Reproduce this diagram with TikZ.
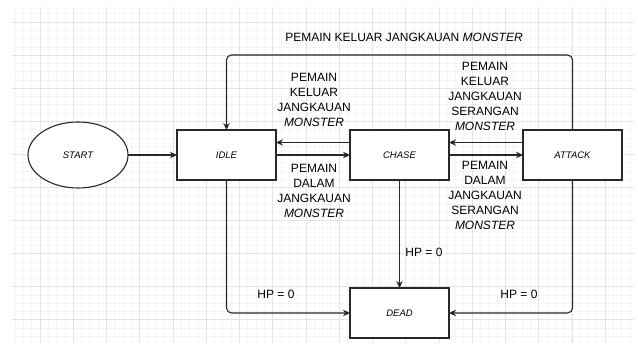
\documentclass[tikz,border=0pt]{standalone}
\usepackage{fontspec}
\setmainfont{Liberation Sans}
\usetikzlibrary{arrows.meta,positioning,shapes.geometric,calc}
\definecolor{gridmajor}{RGB}{228,228,228}
\definecolor{gridminor}{RGB}{245,245,245}
\definecolor{edgegray}{RGB}{40,40,40}

\begin{document}
\begin{tikzpicture}[
  x=1pt, y=-1pt,
  node distance=108pt and 74pt,
  statebox/.style={rectangle, draw=edgegray, line width=1.1pt, fill=white,
    minimum width=99pt, minimum height=50pt, align=center, outer sep=0pt,
    font=\fontsize{9.5}{11}\selectfont\itshape},
  startnode/.style={ellipse, draw=edgegray, line width=1.1pt, fill=white,
    minimum width=100pt, minimum height=66pt, inner sep=0pt, outer sep=0pt,
    font=\fontsize{9.5}{11}\selectfont\itshape},
  lbl/.style={align=center, inner sep=0pt, font=\fontsize{12}{15}\selectfont},
  arrow/.style={-{Stealth[length=7pt,width=6.5pt]}, line width=1.1pt, draw=edgegray}
]
\useasboundingbox (0,0) rectangle (638,347);

% Grid
\begin{scope}
  \clip (12,7) rectangle (634,343);
  \foreach \gx in {0,...,75}
    \draw[gridminor, line width=0.6pt] ({15+8.31*\gx},7) -- ({15+8.31*\gx},343);
  \foreach \gy in {0,...,41}
    \draw[gridminor, line width=0.6pt] (12,{5.5+8.27*\gy}) -- (634,{5.5+8.27*\gy});
  \foreach \gx in {0,...,18}
    \draw[gridmajor, line width=0.8pt] ({40+33.25*\gx},7) -- ({40+33.25*\gx},343);
  \foreach \gy in {0,...,10}
    \draw[gridmajor, line width=0.8pt] (12,{22+33.08*\gy}) -- (634,{22+33.08*\gy});
\end{scope}

% States
\node[startnode] (start) at (78,155) {START};
\node[statebox, right=49pt of start] (idle) {IDLE};
\node[statebox, right=of idle] (chase) {CHASE};
\node[statebox, right=of chase] (attack) {ATTACK};
\node[statebox, below=of chase] (dead) {DEAD};

% Helper for the top loop
\coordinate (toprow) at (0,55);

% Arrows
\draw[arrow] (start) -- (idle);
\draw[arrow] (idle.east) -- (chase.west);
\draw[arrow] ([yshift=12.5pt]chase.west) -- ([yshift=12.5pt]idle.east);
\draw[arrow] (chase.east) -- (attack.west);
\draw[arrow] ([yshift=12.5pt]attack.west) -- ([yshift=12.5pt]chase.east);
\draw[arrow, rounded corners=5pt] (attack.north) -- (attack.north |- toprow)
  -- (idle.north |- toprow) -- (idle.north);
\draw[arrow] (chase) -- (dead);
\draw[arrow, rounded corners=5pt] (idle.south) |- (dead.west);
\draw[arrow, rounded corners=5pt] (attack.south) |- (dead.east);

% Labels
\node[lbl] (lbltop) at (404,37) {PEMAIN KELUAR JANGKAUAN \textit{MONSTER}};
\node[lbl] (lblidleout) at (314,100) {PEMAIN\\KELUAR\\JANGKAUAN\\\textit{MONSTER}};
\node[lbl] (lblidlein) at (314,190.5) {PEMAIN\\DALAM\\JANGKAUAN\\\textit{MONSTER}};
\node[lbl] (lblattout) at (485,96) {PEMAIN\\KELUAR\\JANGKAUAN\\SERANGAN\\\textit{MONSTER}};
\node[lbl] (lblattin) at (485,195) {PEMAIN\\DALAM\\JANGKAUAN\\SERANGAN\\\textit{MONSTER}};
\node[lbl] (lblhpchase) at (424,252) {HP = 0};
\node[lbl] (lblhpidle) at (276,294) {HP = 0};
\node[lbl] (lblhpattack) at (519,294) {HP = 0};
\end{tikzpicture}
\end{document}
